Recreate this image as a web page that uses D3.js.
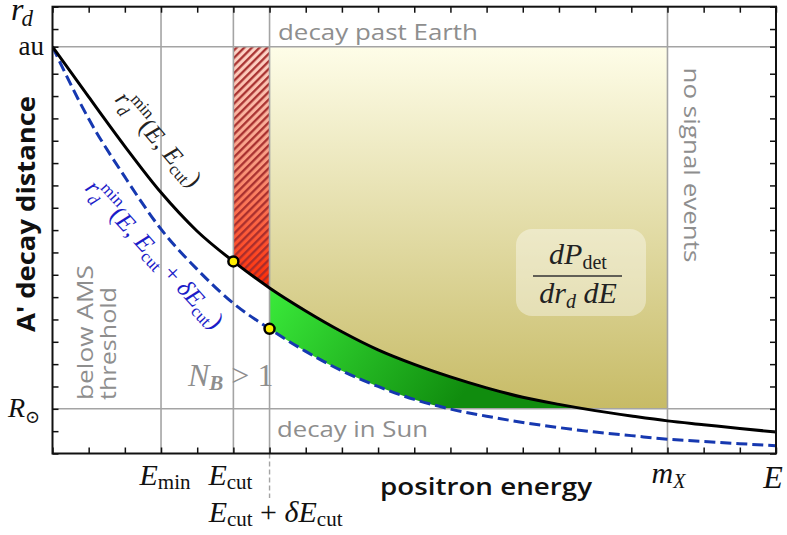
<!DOCTYPE html>
<html><head><meta charset="utf-8">
<script src="https://cdn.jsdelivr.net/npm/d3@7"></script>
<style>body{margin:0;background:#fff}svg{display:block}</style>
</head><body>
<svg id="c" width="787" height="535"></svg>
<script>
// ---- data ----
const energy = [0,1,2,3,4,5,6,7,8,9,10,11,12,13,14,15,16,17,18,19,20];
const rdMinCut = [18.21,15.96,13.75,11.68,9.95,8.60,7.41,6.38,5.45,4.64,3.99,3.43,2.94,2.52,2.20,1.92,1.68,1.46,1.29,1.12,0.96];
const rdMinCutDelta = [18.21,14.98,12.38,10.04,8.24,6.72,5.58,4.57,3.70,3.00,2.42,1.99,1.67,1.39,1.16,0.96,0.80,0.64,0.54,0.44,0.35];
const AU = 18.21, R_SUN = 2;
const E_MIN = 3, E_CUT = 5, E_CUT_DELTA = 6, M_X = 17, E_END = 20;
const xTicks = [0,1,2,3,4,5,6,7,8,9,10,11,12,13,14,15,16,17,18,19,20];
const yTicks = [0,1,2,3,4,5,6,7,8,9,10,11,12,13,14,15,16,17,18.21,19,20];
const vGrid = [E_MIN, E_CUT, E_CUT_DELTA, M_X];
const hGrid = [AU, R_SUN];

const SERIF = "'Liberation Serif','DejaVu Serif',serif";
const SANS = "'Open Sans','Noto Sans',sans-serif";
const GRAY = "#8e8e8e";

const pts = energy.map((E,i)=>({E, black: rdMinCut[i], blue: rdMinCutDelta[i]}));
const x = d3.scaleLinear().domain([0,20]).range([52.5,776]);
const y = d3.scaleLinear().domain([0,20]).range([453.5,6.7]);
const svg = d3.select('#c');
const defs = svg.append('defs');

// gradients
const gOl = defs.append('linearGradient').attr('id','olive').attr('gradientUnits','userSpaceOnUse')
  .attr('x1',0).attr('y1',y(AU)).attr('x2',0).attr('y2',y(R_SUN));
gOl.append('stop').attr('offset',0).attr('stop-color','#fefde8');
gOl.append('stop').attr('offset',1).attr('stop-color','#c7bb66');
const gRed = defs.append('linearGradient').attr('id','redg').attr('gradientUnits','userSpaceOnUse')
  .attr('x1',0).attr('y1',y(AU)).attr('x2',0).attr('y2',y(rdMinCut[6]));
gRed.append('stop').attr('offset',0).attr('stop-color','#fdd6ca');
gRed.append('stop').attr('offset',0.5).attr('stop-color','#f9977c');
gRed.append('stop').attr('offset',1).attr('stop-color','#ff2800');
const gGr = defs.append('linearGradient').attr('id','greeng').attr('gradientUnits','userSpaceOnUse')
  .attr('x1',x(6)).attr('y1',y(7.4)).attr('x2',x(11)).attr('y2',y(1.8));
gGr.append('stop').attr('offset',0).attr('stop-color','#3aea3a');
gGr.append('stop').attr('offset',1).attr('stop-color','#108c0e');

const pat = defs.append('pattern').attr('id','hatch').attr('patternUnits','userSpaceOnUse')
  .attr('width',5.4).attr('height',5.4).attr('patternTransform','rotate(45)');
pat.append('line').attr('x1',1.2).attr('y1',0).attr('x2',1.2).attr('y2',5.4)
  .attr('stroke','#a52c2c').attr('stroke-width',2.2);

function clipRect(id, e0, e1, r0, r1){
  defs.append('clipPath').attr('id',id).append('rect')
    .attr('x',x(e0)).attr('width',x(e1)-x(e0)).attr('y',y(r1)).attr('height',y(r0)-y(r1));
}
clipRect('cOl', E_CUT_DELTA, M_X, R_SUN, AU);
clipRect('cRed', E_CUT, E_CUT_DELTA, 0, AU);
clipRect('cPlot', 0, E_END, 0, 20);

const areaAbove = d3.area().x(d=>x(d.E)).y0(d=>y(d.black)).y1(()=>y(AU)).curve(d3.curveMonotoneX);
const areaBetween = d3.area().x(d=>x(d.E)).y0(d=>y(d.blue)).y1(d=>y(d.black)).curve(d3.curveMonotoneX);
const lineBlack = d3.line().x(d=>x(d.E)).y(d=>y(d.black)).curve(d3.curveMonotoneX);
const lineBlue = d3.line().x(d=>x(d.E)).y(d=>y(d.blue)).curve(d3.curveMonotoneX);

svg.append('path').attr('d',areaAbove(pts)).attr('fill','url(#olive)').attr('clip-path','url(#cOl)');
svg.append('path').attr('d',areaAbove(pts)).attr('fill','url(#redg)').attr('clip-path','url(#cRed)');
svg.append('path').attr('d',areaAbove(pts)).attr('fill','url(#hatch)').attr('clip-path','url(#cRed)');
svg.append('path').attr('d',areaBetween(pts)).attr('fill','url(#greeng)').attr('clip-path','url(#cOl)');

// grid
svg.selectAll('.vg').data(vGrid).enter().append('line')
  .attr('x1',d=>x(d)).attr('x2',d=>x(d)).attr('y1',y(20)).attr('y2',y(0))
  .attr('stroke','#a4a4a4').attr('stroke-width',1.6);
svg.selectAll('.hg').data(hGrid).enter().append('line')
  .attr('y1',d=>y(d)).attr('y2',d=>y(d)).attr('x1',x(0)).attr('x2',x(20))
  .attr('stroke','#a4a4a4').attr('stroke-width',1.6);
svg.append('line').attr('x1',x(E_CUT_DELTA)).attr('x2',x(E_CUT_DELTA)).attr('y1',y(0)).attr('y2',498)
  .attr('stroke','#a4a4a4').attr('stroke-width',1.4).attr('stroke-dasharray','5,3');

// curves
const cg = svg.append('g').attr('clip-path','url(#cPlot)');
cg.append('path').attr('d',lineBlue(pts)).attr('fill','none').attr('stroke','#1638b0')
  .attr('stroke-width',3).attr('stroke-dasharray','11,5');
cg.append('path').attr('d',lineBlack(pts)).attr('fill','none').attr('stroke','#000').attr('stroke-width',3);

// points
svg.append('circle').attr('cx',x(E_CUT)).attr('cy',y(rdMinCut[5])).attr('r',5)
  .attr('fill','#ffee00').attr('stroke','#000').attr('stroke-width',2.5);
svg.append('circle').attr('cx',x(E_CUT_DELTA)).attr('cy',y(rdMinCutDelta[6])).attr('r',5)
  .attr('fill','#ffee00').attr('stroke','#000').attr('stroke-width',2.5);

// axes (inward ticks on all four sides)
const tk = g => { g.select('.domain').remove(); g.selectAll('line').attr('stroke','#111').attr('stroke-width',1.5); };
svg.append('g').attr('transform',`translate(0,${y(0)})`).call(d3.axisBottom(x).tickValues(xTicks).tickSizeInner(-6).tickSizeOuter(0).tickFormat('')).call(tk);
svg.append('g').attr('transform',`translate(0,${y(20)})`).call(d3.axisTop(x).tickValues(xTicks).tickSizeInner(-6).tickSizeOuter(0).tickFormat('')).call(tk);
svg.append('g').attr('transform',`translate(${x(0)},0)`).call(d3.axisLeft(y).tickValues(yTicks).tickSizeInner(-6).tickSizeOuter(0).tickFormat('')).call(tk);
svg.append('g').attr('transform',`translate(${x(20)},0)`).call(d3.axisRight(y).tickValues(yTicks).tickSizeInner(-6).tickSizeOuter(0).tickFormat('')).call(tk);
svg.append('rect').attr('x',x(0)).attr('y',y(20)).attr('width',x(20)-x(0)).attr('height',y(0)-y(20))
  .attr('fill','none').attr('stroke','#111').attr('stroke-width',2);

// math text helper
function mtext(parent, px, py, segs, o){
  const t = parent.append('text').attr('x',px).attr('y',py)
    .attr('text-anchor',o.anchor||'middle').attr('font-family',SERIF)
    .attr('fill',o.fill||'#111').attr('font-size',o.size);
  segs.forEach(s=>{
    const ts = t.append('tspan').text(s.t);
    if (s.i) ts.attr('font-style','italic');
    if (s.fs) ts.attr('font-size',s.fs);
    if (s.dx) ts.attr('dx',s.dx);
    if (s.dy) ts.attr('dy',s.dy);
    if (s.b) ts.attr('font-weight','bold');
  });
  return t;
}

// axis symbols
mtext(svg, 11, 20, [{t:'r',i:1},{t:'d',i:1,fs:23,dx:-2,dy:6}], {anchor:'start', size:32});
mtext(svg, 44, 55, [{t:'au'}], {anchor:'end', size:27});
mtext(svg, 8, 417, [{t:'R',i:1},{t:'⊙',fs:18,dy:6}], {anchor:'start', size:28});
mtext(svg, x(E_MIN)+4, 485, [{t:'E',i:1},{t:'min',fs:21,dy:4}], {size:30});
mtext(svg, x(E_CUT)-3, 485, [{t:'E',i:1},{t:'cut',fs:21,dy:4}], {size:30});
mtext(svg, x(E_CUT_DELTA)+6, 522, [{t:'E',i:1},{t:'cut',fs:21,dy:4},{t:' + ',dy:-4},{t:'δ',i:1},{t:'E',i:1},{t:'cut',fs:21,dy:4}], {size:30});
mtext(svg, x(M_X)+1, 483, [{t:'m',i:1},{t:'X',i:1,fs:20,dy:5}], {size:30});
mtext(svg, x(E_END)-3, 488, [{t:'E',i:1}], {size:32});

// axis titles
svg.append('text').attr('transform','translate(35,214) rotate(-90)').attr('text-anchor','middle')
  .attr('font-family',SANS).attr('font-weight',700).attr('font-size',25).attr('fill','#111')
  .attr('textLength',236).attr('lengthAdjust','spacingAndGlyphs').text("A' decay distance");
svg.append('text').attr('x',486).attr('y',495).attr('text-anchor','middle')
  .attr('font-family',SANS).attr('font-weight',600).attr('font-size',23).attr('fill','#111')
  .attr('textLength',212).attr('lengthAdjust','spacingAndGlyphs').text('positron energy');

// region annotations
function gtext(tr, str, len, anchor){
  return svg.append('text').attr('transform',tr).attr('text-anchor',anchor||'start')
    .attr('font-family',SANS).attr('font-weight',500).attr('font-size',21).attr('fill',GRAY)
    .attr('textLength',len).attr('lengthAdjust','spacingAndGlyphs').text(str);
}
gtext('translate(278,40)','decay past Earth',200);
gtext('translate(277,437)','decay in Sun',151);
gtext('translate(684,165) rotate(90)','no signal events',195,'middle');
gtext('translate(93,400) rotate(-90)','below AMS',135);
gtext('translate(116,400) rotate(-90)','threshold',113);
mtext(svg, 188, 386, [{t:'N',i:1},{t:'B',i:1,b:1,fs:21,dy:4},{t:' > 1',dy:-4}], {anchor:'start', size:32, fill:GRAY});

// curve labels
const lb = svg.append('g').attr('transform','translate(114,100) rotate(49)');
mtext(lb, 0, 0, [{t:'r',i:1},{t:'d',i:1,fs:17,dy:6},{t:'min',fs:17,dx:-8,dy:-18},
  {t:'(',dy:12},{t:'E',i:1},{t:', '},{t:'E',i:1},{t:'cut',fs:17,dy:5},{t:')',dy:-5}], {anchor:'start', size:25, fill:'#222'});
const lbb = svg.append('g').attr('transform','translate(84,189) rotate(47.5)');
mtext(lbb, 0, 0, [{t:'r',i:1},{t:'d',i:1,fs:17,dy:6},{t:'min',fs:17,dx:-8,dy:-18},
  {t:'(',dy:12},{t:'E',i:1},{t:', '},{t:'E',i:1},{t:'cut',fs:17,dy:5},{t:' + ',dy:-5},{t:'δ',i:1},{t:'E',i:1},{t:'cut',fs:17,dy:5},{t:')',dy:-5}],
  {anchor:'start', size:25, fill:'#1c1cc8'});

// density box
svg.append('rect').attr('x',516).attr('y',229).attr('width',130).attr('height',87).attr('rx',16)
  .attr('fill','#ffffff').attr('fill-opacity',0.38);
mtext(svg, 578, 264, [{t:'dP',i:1},{t:'det',fs:20,dy:5}], {size:30, fill:'#222'});
svg.append('line').attr('x1',533).attr('x2',622).attr('y1',276).attr('y2',276).attr('stroke','#333').attr('stroke-width',1.4);
mtext(svg, 578, 303, [{t:'dr',i:1},{t:'d',i:1,fs:20,dy:5},{t:' dE',i:1,dy:-5}], {size:30, fill:'#222'});
</script>
</body></html>
